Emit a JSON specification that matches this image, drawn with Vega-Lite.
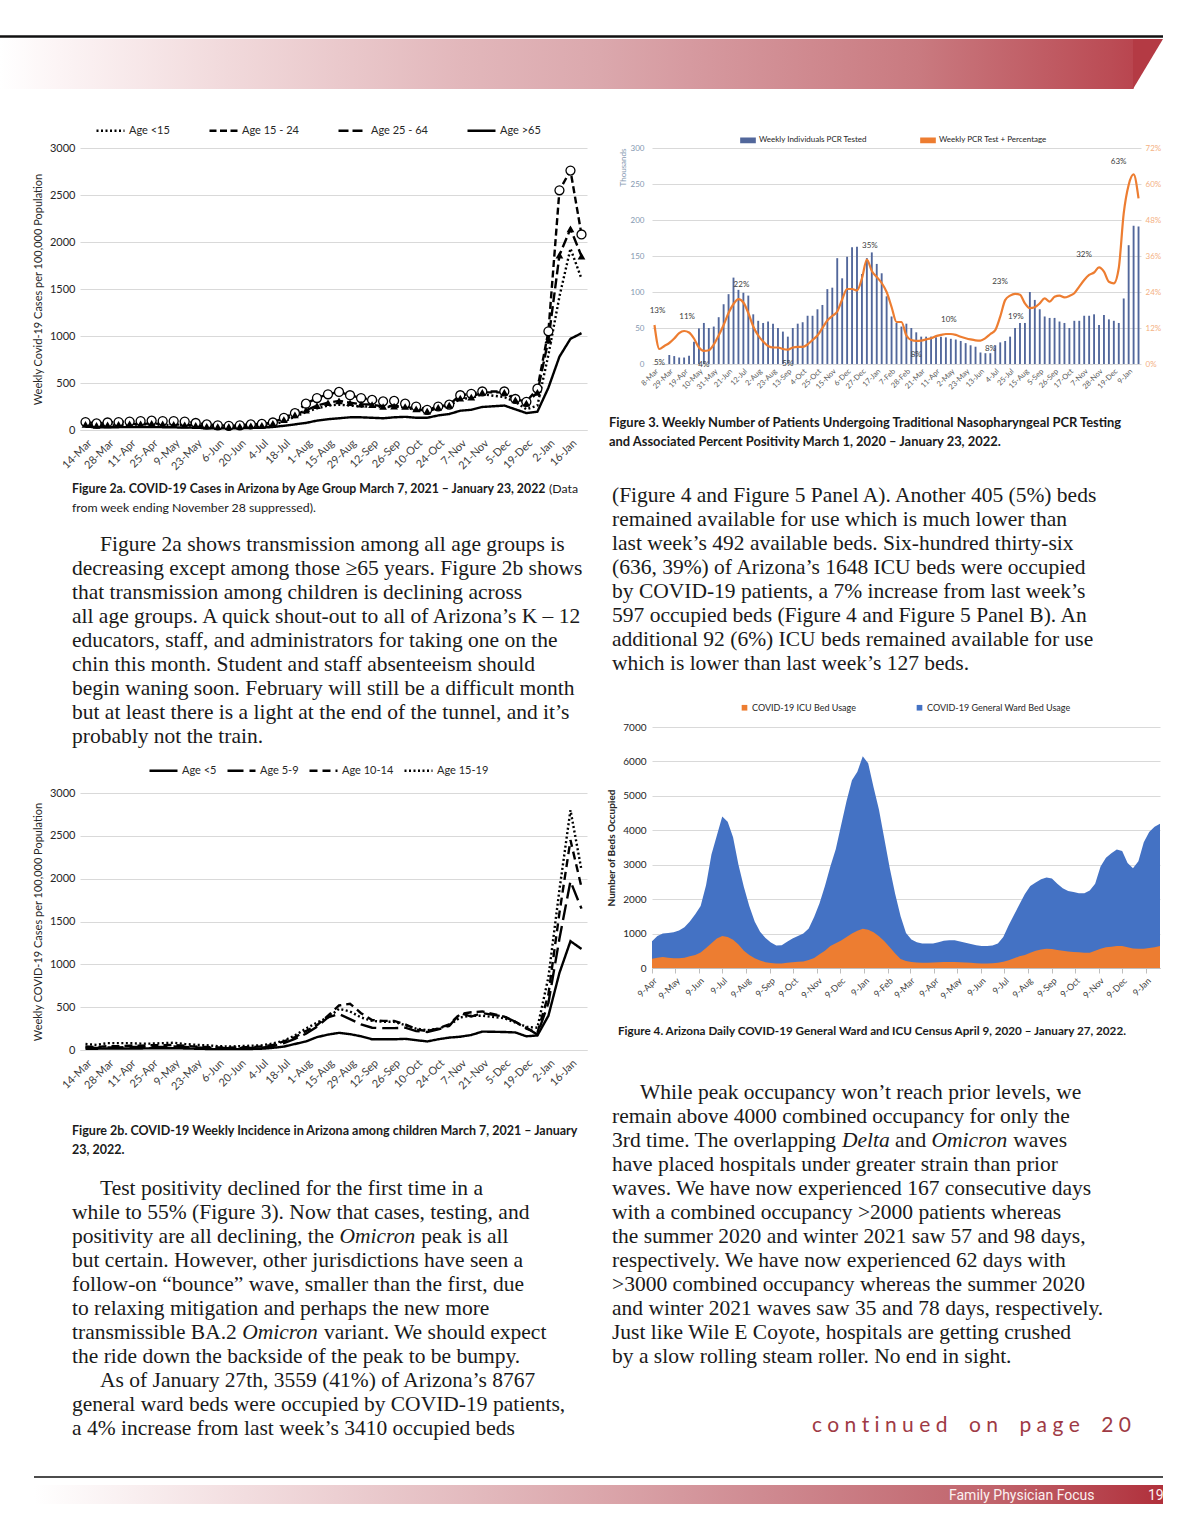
{
"$schema": "https://vega.github.io/schema/vega-lite/v6.json",
"padding": 0,
"background": "#ffffff",
"config": {
  "view": {"stroke": null},
  "font": "Lato",
  "axis": {"labelFont": "Lato", "titleFont": "Lato", "gridColor": "#d9d9d9", "gridWidth": 1, "domain": false, "ticks": false, "labelColor": "#404040", "titleColor": "#404040", "titleFontWeight": "normal", "labelOverlap": false, "labelBound": false},
  "legend": {"labelFont": "Lato", "labelColor": "#262626"}
},
"datasets": {
  "c2a": [
    {"w":"14-Mar","Age <15":50,"Age 15 - 24":85,"Age 25 - 64":60,"Age >65":35},
    {"w":"21-Mar","Age <15":45,"Age 15 - 24":70,"Age 25 - 64":50,"Age >65":30},
    {"w":"28-Mar","Age <15":45,"Age 15 - 24":80,"Age 25 - 64":55,"Age >65":30},
    {"w":"4-Apr","Age <15":50,"Age 15 - 24":85,"Age 25 - 64":60,"Age >65":30},
    {"w":"11-Apr","Age <15":55,"Age 15 - 24":90,"Age 25 - 64":65,"Age >65":32},
    {"w":"18-Apr","Age <15":60,"Age 15 - 24":95,"Age 25 - 64":65,"Age >65":32},
    {"w":"25-Apr","Age <15":60,"Age 15 - 24":100,"Age 25 - 64":70,"Age >65":32},
    {"w":"2-May","Age <15":55,"Age 15 - 24":95,"Age 25 - 64":65,"Age >65":30},
    {"w":"9-May","Age <15":55,"Age 15 - 24":95,"Age 25 - 64":60,"Age >65":28},
    {"w":"16-May","Age <15":50,"Age 15 - 24":90,"Age 25 - 64":55,"Age >65":26},
    {"w":"23-May","Age <15":45,"Age 15 - 24":75,"Age 25 - 64":50,"Age >65":24},
    {"w":"30-May","Age <15":35,"Age 15 - 24":60,"Age 25 - 64":40,"Age >65":20},
    {"w":"6-Jun","Age <15":25,"Age 15 - 24":50,"Age 25 - 64":35,"Age >65":18},
    {"w":"13-Jun","Age <15":25,"Age 15 - 24":45,"Age 25 - 64":35,"Age >65":18},
    {"w":"20-Jun","Age <15":30,"Age 15 - 24":50,"Age 25 - 64":40,"Age >65":20},
    {"w":"27-Jun","Age <15":30,"Age 15 - 24":60,"Age 25 - 64":45,"Age >65":22},
    {"w":"4-Jul","Age <15":35,"Age 15 - 24":65,"Age 25 - 64":50,"Age >65":25},
    {"w":"11-Jul","Age <15":55,"Age 15 - 24":80,"Age 25 - 64":70,"Age >65":32},
    {"w":"18-Jul","Age <15":90,"Age 15 - 24":130,"Age 25 - 64":110,"Age >65":45},
    {"w":"25-Jul","Age <15":140,"Age 15 - 24":180,"Age 25 - 64":160,"Age >65":60},
    {"w":"1-Aug","Age <15":190,"Age 15 - 24":280,"Age 25 - 64":210,"Age >65":75},
    {"w":"8-Aug","Age <15":230,"Age 15 - 24":340,"Age 25 - 64":260,"Age >65":100},
    {"w":"15-Aug","Age <15":260,"Age 15 - 24":380,"Age 25 - 64":290,"Age >65":115},
    {"w":"22-Aug","Age <15":270,"Age 15 - 24":405,"Age 25 - 64":310,"Age >65":125},
    {"w":"29-Aug","Age <15":260,"Age 15 - 24":370,"Age 25 - 64":290,"Age >65":135},
    {"w":"5-Sep","Age <15":250,"Age 15 - 24":340,"Age 25 - 64":275,"Age >65":135},
    {"w":"12-Sep","Age <15":250,"Age 15 - 24":320,"Age 25 - 64":270,"Age >65":130},
    {"w":"19-Sep","Age <15":240,"Age 15 - 24":305,"Age 25 - 64":250,"Age >65":125},
    {"w":"26-Sep","Age <15":250,"Age 15 - 24":310,"Age 25 - 64":255,"Age >65":135},
    {"w":"3-Oct","Age <15":240,"Age 15 - 24":280,"Age 25 - 64":250,"Age >65":140},
    {"w":"10-Oct","Age <15":210,"Age 15 - 24":250,"Age 25 - 64":225,"Age >65":130},
    {"w":"17-Oct","Age <15":190,"Age 15 - 24":215,"Age 25 - 64":200,"Age >65":130},
    {"w":"24-Oct","Age <15":240,"Age 15 - 24":250,"Age 25 - 64":240,"Age >65":155},
    {"w":"31-Oct","Age <15":260,"Age 15 - 24":270,"Age 25 - 64":265,"Age >65":170},
    {"w":"7-Nov","Age <15":330,"Age 15 - 24":370,"Age 25 - 64":340,"Age >65":205},
    {"w":"14-Nov","Age <15":340,"Age 15 - 24":385,"Age 25 - 64":350,"Age >65":215},
    {"w":"21-Nov","Age <15":380,"Age 15 - 24":410,"Age 25 - 64":400,"Age >65":245},
    {"w":"5-Dec","Age <15":350,"Age 15 - 24":410,"Age 25 - 64":400,"Age >65":260},
    {"w":"12-Dec","Age <15":300,"Age 15 - 24":330,"Age 25 - 64":320,"Age >65":220},
    {"w":"19-Dec","Age <15":220,"Age 15 - 24":300,"Age 25 - 64":285,"Age >65":180},
    {"w":"26-Dec","Age <15":260,"Age 15 - 24":440,"Age 25 - 64":400,"Age >65":195},
    {"w":"2-Jan","Age <15":800,"Age 15 - 24":1050,"Age 25 - 64":960,"Age >65":450},
    {"w":"9-Jan","Age <15":1420,"Age 15 - 24":2550,"Age 25 - 64":1860,"Age >65":780},
    {"w":"16-Jan","Age <15":1930,"Age 15 - 24":2760,"Age 25 - 64":2140,"Age >65":970},
    {"w":"23-Jan","Age <15":1610,"Age 15 - 24":2080,"Age 25 - 64":1850,"Age >65":1030}
  ],
  "c2b": [
    {"w":"14-Mar","Age <5":15,"Age 5-9":30,"Age 10-14":40,"Age 15-19":70},
    {"w":"21-Mar","Age <5":15,"Age 5-9":25,"Age 10-14":35,"Age 15-19":60},
    {"w":"28-Mar","Age <5":18,"Age 5-9":30,"Age 10-14":45,"Age 15-19":80},
    {"w":"4-Apr","Age <5":18,"Age 5-9":30,"Age 10-14":45,"Age 15-19":80},
    {"w":"11-Apr","Age <5":18,"Age 5-9":35,"Age 10-14":50,"Age 15-19":80},
    {"w":"18-Apr","Age <5":18,"Age 5-9":35,"Age 10-14":50,"Age 15-19":75},
    {"w":"25-Apr","Age <5":20,"Age 5-9":35,"Age 10-14":55,"Age 15-19":75},
    {"w":"2-May","Age <5":20,"Age 5-9":35,"Age 10-14":55,"Age 15-19":80},
    {"w":"9-May","Age <5":20,"Age 5-9":40,"Age 10-14":60,"Age 15-19":85},
    {"w":"16-May","Age <5":18,"Age 5-9":35,"Age 10-14":50,"Age 15-19":70},
    {"w":"23-May","Age <5":15,"Age 5-9":30,"Age 10-14":40,"Age 15-19":60},
    {"w":"30-May","Age <5":12,"Age 5-9":25,"Age 10-14":35,"Age 15-19":55},
    {"w":"6-Jun","Age <5":10,"Age 5-9":20,"Age 10-14":30,"Age 15-19":45},
    {"w":"13-Jun","Age <5":10,"Age 5-9":20,"Age 10-14":28,"Age 15-19":40},
    {"w":"20-Jun","Age <5":10,"Age 5-9":22,"Age 10-14":30,"Age 15-19":45},
    {"w":"27-Jun","Age <5":12,"Age 5-9":25,"Age 10-14":35,"Age 15-19":50},
    {"w":"4-Jul","Age <5":15,"Age 5-9":28,"Age 10-14":40,"Age 15-19":55},
    {"w":"11-Jul","Age <5":25,"Age 5-9":45,"Age 10-14":60,"Age 15-19":75},
    {"w":"18-Jul","Age <5":40,"Age 5-9":80,"Age 10-14":100,"Age 15-19":110},
    {"w":"25-Jul","Age <5":70,"Age 5-9":130,"Age 10-14":150,"Age 15-19":170},
    {"w":"1-Aug","Age <5":100,"Age 5-9":190,"Age 10-14":220,"Age 15-19":250},
    {"w":"8-Aug","Age <5":150,"Age 5-9":270,"Age 10-14":290,"Age 15-19":320},
    {"w":"15-Aug","Age <5":180,"Age 5-9":380,"Age 10-14":400,"Age 15-19":380},
    {"w":"22-Aug","Age <5":200,"Age 5-9":420,"Age 10-14":520,"Age 15-19":480},
    {"w":"29-Aug","Age <5":185,"Age 5-9":360,"Age 10-14":540,"Age 15-19":450},
    {"w":"5-Sep","Age <5":160,"Age 5-9":300,"Age 10-14":430,"Age 15-19":380},
    {"w":"12-Sep","Age <5":125,"Age 5-9":260,"Age 10-14":350,"Age 15-19":340},
    {"w":"19-Sep","Age <5":125,"Age 5-9":255,"Age 10-14":340,"Age 15-19":330},
    {"w":"26-Sep","Age <5":125,"Age 5-9":255,"Age 10-14":340,"Age 15-19":330},
    {"w":"3-Oct","Age <5":130,"Age 5-9":260,"Age 10-14":300,"Age 15-19":290},
    {"w":"10-Oct","Age <5":115,"Age 5-9":220,"Age 10-14":240,"Age 15-19":250},
    {"w":"17-Oct","Age <5":100,"Age 5-9":210,"Age 10-14":220,"Age 15-19":230},
    {"w":"24-Oct","Age <5":125,"Age 5-9":240,"Age 10-14":250,"Age 15-19":250},
    {"w":"31-Oct","Age <5":145,"Age 5-9":280,"Age 10-14":300,"Age 15-19":290},
    {"w":"7-Nov","Age <5":155,"Age 5-9":430,"Age 10-14":420,"Age 15-19":380},
    {"w":"14-Nov","Age <5":175,"Age 5-9":390,"Age 10-14":440,"Age 15-19":400},
    {"w":"21-Nov","Age <5":215,"Age 5-9":430,"Age 10-14":450,"Age 15-19":400},
    {"w":"5-Dec","Age <5":210,"Age 5-9":390,"Age 10-14":390,"Age 15-19":370},
    {"w":"12-Dec","Age <5":205,"Age 5-9":330,"Age 10-14":330,"Age 15-19":320},
    {"w":"19-Dec","Age <5":160,"Age 5-9":260,"Age 10-14":250,"Age 15-19":270},
    {"w":"26-Dec","Age <5":170,"Age 5-9":180,"Age 10-14":200,"Age 15-19":260},
    {"w":"2-Jan","Age <5":400,"Age 5-9":550,"Age 10-14":650,"Age 15-19":850},
    {"w":"9-Jan","Age <5":900,"Age 5-9":1300,"Age 10-14":1600,"Age 15-19":1870},
    {"w":"16-Jan","Age <5":1270,"Age 5-9":1970,"Age 10-14":2450,"Age 15-19":2800},
    {"w":"23-Jan","Age <5":1180,"Age 5-9":1650,"Age 10-14":1900,"Age 15-19":2100}
  ],
  "c3": [
    {"w":"8-Mar","p":0.13,"pos":"above"},{"w":"15-Mar","p":0.05,"pos":"below"},{"w":"22-Mar","p":0.06},
    {"w":"29-Mar","t":12.5,"p":0.07},{"w":"5-Apr","t":11,"p":0.085},{"w":"12-Apr","t":9,"p":0.103},
    {"w":"19-Apr","t":9,"p":0.11,"pos":"above"},{"w":"26-Apr","t":11.5,"p":0.105},{"w":"3-May","t":31,"p":0.085},
    {"w":"10-May","t":49.5,"p":0.055},{"w":"17-May","t":57,"p":0.044,"pos":"below"},{"w":"24-May","t":50,"p":0.046},
    {"w":"31-May","t":52,"p":0.065},{"w":"7-Jun","t":65,"p":0.095},{"w":"14-Jun","t":83,"p":0.13},
    {"w":"21-Jun","t":97,"p":0.17},{"w":"28-Jun","t":120,"p":0.2},{"w":"5-Jul","t":103,"p":0.216,"pos":"above"},
    {"w":"12-Jul","t":99,"p":0.205},{"w":"19-Jul","t":95,"p":0.17},{"w":"26-Jul","t":69,"p":0.125},
    {"w":"2-Aug","t":60,"p":0.095},{"w":"9-Aug","t":57,"p":0.075},{"w":"16-Aug","t":59,"p":0.06},
    {"w":"23-Aug","t":56,"p":0.055},{"w":"30-Aug","t":50,"p":0.055},{"w":"6-Sep","t":45,"p":0.05},
    {"w":"13-Sep","t":38,"p":0.048,"pos":"below"},{"w":"20-Sep","t":50,"p":0.055},{"w":"27-Sep","t":56,"p":0.057},
    {"w":"4-Oct","t":58,"p":0.057},{"w":"11-Oct","t":67,"p":0.065},{"w":"18-Oct","t":67,"p":0.08},
    {"w":"25-Oct","t":76,"p":0.095},{"w":"1-Nov","t":82,"p":0.12},{"w":"8-Nov","t":104,"p":0.145},
    {"w":"15-Nov","t":106,"p":0.16},{"w":"22-Nov","t":147,"p":0.175},{"w":"29-Nov","t":119,"p":0.215},
    {"w":"6-Dec","t":149,"p":0.25},{"w":"13-Dec","t":162,"p":0.25},{"w":"20-Dec","t":163,"p":0.245},
    {"w":"27-Dec","t":125,"p":0.285},{"w":"3-Jan","t":147,"p":0.348,"pos":"above"},{"w":"10-Jan","t":155,"p":0.31},
    {"w":"17-Jan","t":139,"p":0.29},{"w":"24-Jan","t":126,"p":0.27},{"w":"31-Jan","t":94,"p":0.24},
    {"w":"7-Feb","t":66,"p":0.19},{"w":"14-Feb","t":57,"p":0.14},{"w":"21-Feb","t":52,"p":0.14},
    {"w":"28-Feb","t":56,"p":0.095},{"w":"7-Mar","t":50,"p":0.08},{"w":"14-Mar","t":44,"p":0.077,"pos":"below"},
    {"w":"21-Mar","t":38,"p":0.078},{"w":"28-Mar","t":38,"p":0.082},{"w":"4-Apr","t":38,"p":0.086},
    {"w":"11-Apr","t":37,"p":0.093},{"w":"18-Apr","t":38,"p":0.097},{"w":"25-Apr","t":37,"p":0.1,"pos":"above"},
    {"w":"2-May","t":35,"p":0.1},{"w":"9-May","t":34,"p":0.097},{"w":"16-May","t":32,"p":0.091},
    {"w":"23-May","t":29,"p":0.086},{"w":"30-May","t":26,"p":0.082},{"w":"6-Jun","t":24,"p":0.079},
    {"w":"13-Jun","t":16,"p":0.078,"pos":"right"},{"w":"20-Jun","t":15,"p":0.086},{"w":"27-Jun","t":15,"p":0.1},
    {"w":"4-Jul","t":26,"p":0.113},{"w":"11-Jul","t":30,"p":0.158},{"w":"18-Jul","t":32,"p":0.213},
    {"w":"25-Jul","t":38,"p":0.228},{"w":"1-Aug","t":50,"p":0.234,"pos":"aboveleft"},{"w":"8-Aug","t":57,"p":0.231},
    {"w":"15-Aug","t":57,"p":0.202},{"w":"22-Aug","t":100,"p":0.186,"pos":"left"},{"w":"29-Aug","t":89,"p":0.189},
    {"w":"5-Sep","t":76,"p":0.202},{"w":"12-Sep","t":66,"p":0.219},{"w":"19-Sep","t":64,"p":0.208},
    {"w":"26-Sep","t":64,"p":0.224},{"w":"3-Oct","t":59,"p":0.228},{"w":"10-Oct","t":57,"p":0.222},
    {"w":"17-Oct","t":50,"p":0.227},{"w":"24-Oct","t":60,"p":0.236},{"w":"31-Oct","t":60,"p":0.258},
    {"w":"7-Nov","t":67,"p":0.28},{"w":"14-Nov","t":67,"p":0.297},{"w":"21-Nov","t":69,"p":0.305},
    {"w":"28-Nov","t":54,"p":0.322,"pos":"aboveleft"},{"w":"5-Dec","t":68,"p":0.308},{"w":"12-Dec","t":62,"p":0.274},
    {"w":"19-Dec","t":60,"p":0.269},{"w":"26-Dec","t":57,"p":0.32},{"w":"2-Jan","t":91,"p":0.502},
    {"w":"9-Jan","t":165,"p":0.597},{"w":"16-Jan","t":192,"p":0.632,"pos":"aboveleft"},{"w":"23-Jan","t":191,"p":0.552}
  ],
  "c4": [
    {"d":"2020/04/09","tot":780,"icu":270},{"d":"2020/04/16","tot":930,"icu":300},{"d":"2020/04/23","tot":1000,"icu":320},
    {"d":"2020/04/30","tot":1020,"icu":300},{"d":"2020/05/07","tot":1040,"icu":280},{"d":"2020/05/14","tot":1090,"icu":280},
    {"d":"2020/05/21","tot":1180,"icu":300},{"d":"2020/05/28","tot":1350,"icu":340},{"d":"2020/06/04","tot":1560,"icu":380},
    {"d":"2020/06/11","tot":1800,"icu":450},{"d":"2020/06/18","tot":2400,"icu":580},{"d":"2020/06/25","tot":3300,"icu":720},
    {"d":"2020/07/02","tot":3850,"icu":860},{"d":"2020/07/09","tot":4400,"icu":930},{"d":"2020/07/16","tot":4250,"icu":900},
    {"d":"2020/07/23","tot":3800,"icu":820},{"d":"2020/07/30","tot":3000,"icu":680},{"d":"2020/08/06","tot":2350,"icu":500},
    {"d":"2020/08/13","tot":1800,"icu":380},{"d":"2020/08/20","tot":1350,"icu":280},{"d":"2020/08/27","tot":1050,"icu":220},
    {"d":"2020/09/03","tot":870,"icu":170},{"d":"2020/09/10","tot":740,"icu":145},{"d":"2020/09/17","tot":650,"icu":130},
    {"d":"2020/09/24","tot":660,"icu":130},{"d":"2020/10/01","tot":760,"icu":150},{"d":"2020/10/08","tot":860,"icu":170},
    {"d":"2020/10/15","tot":930,"icu":180},{"d":"2020/10/22","tot":1000,"icu":190},{"d":"2020/10/29","tot":1150,"icu":230},
    {"d":"2020/11/05","tot":1480,"icu":290},{"d":"2020/11/12","tot":1880,"icu":400},{"d":"2020/11/19","tot":2380,"icu":500},
    {"d":"2020/11/26","tot":2950,"icu":640},{"d":"2020/12/03","tot":3450,"icu":720},{"d":"2020/12/10","tot":4150,"icu":800},
    {"d":"2020/12/17","tot":4850,"icu":900},{"d":"2020/12/24","tot":5450,"icu":1000},{"d":"2020/12/31","tot":5700,"icu":1080},
    {"d":"2021/01/07","tot":6150,"icu":1140},{"d":"2021/01/14","tot":5950,"icu":1110},{"d":"2021/01/21","tot":5250,"icu":1040},
    {"d":"2021/01/28","tot":4600,"icu":920},{"d":"2021/02/04","tot":3750,"icu":780},{"d":"2021/02/11","tot":2900,"icu":600},
    {"d":"2021/02/18","tot":2150,"icu":420},{"d":"2021/02/25","tot":1500,"icu":260},{"d":"2021/03/04","tot":1020,"icu":200},
    {"d":"2021/03/11","tot":830,"icu":175},{"d":"2021/03/18","tot":750,"icu":160},{"d":"2021/03/25","tot":710,"icu":150},
    {"d":"2021/04/01","tot":710,"icu":150},{"d":"2021/04/08","tot":710,"icu":160},{"d":"2021/04/15","tot":750,"icu":170},
    {"d":"2021/04/22","tot":790,"icu":175},{"d":"2021/04/29","tot":805,"icu":175},{"d":"2021/05/06","tot":805,"icu":175},
    {"d":"2021/05/13","tot":770,"icu":170},{"d":"2021/05/20","tot":730,"icu":160},{"d":"2021/05/27","tot":700,"icu":150},
    {"d":"2021/06/03","tot":660,"icu":140},{"d":"2021/06/10","tot":640,"icu":130},{"d":"2021/06/17","tot":640,"icu":130},
    {"d":"2021/06/24","tot":650,"icu":140},{"d":"2021/07/01","tot":710,"icu":150},{"d":"2021/07/08","tot":900,"icu":180},
    {"d":"2021/07/15","tot":1240,"icu":225},{"d":"2021/07/22","tot":1550,"icu":280},{"d":"2021/07/29","tot":1850,"icu":340},
    {"d":"2021/08/05","tot":2150,"icu":380},{"d":"2021/08/12","tot":2380,"icu":440},{"d":"2021/08/19","tot":2480,"icu":500},
    {"d":"2021/08/26","tot":2580,"icu":540},{"d":"2021/09/02","tot":2630,"icu":560},{"d":"2021/09/09","tot":2600,"icu":550},
    {"d":"2021/09/16","tot":2450,"icu":520},{"d":"2021/09/23","tot":2320,"icu":500},{"d":"2021/09/30","tot":2240,"icu":480},
    {"d":"2021/10/07","tot":2210,"icu":465},{"d":"2021/10/14","tot":2170,"icu":455},{"d":"2021/10/21","tot":2170,"icu":445},
    {"d":"2021/10/28","tot":2250,"icu":445},{"d":"2021/11/04","tot":2450,"icu":500},{"d":"2021/11/11","tot":2950,"icu":560},
    {"d":"2021/11/18","tot":3200,"icu":600},{"d":"2021/11/25","tot":3330,"icu":620},{"d":"2021/12/02","tot":3440,"icu":640},
    {"d":"2021/12/09","tot":3400,"icu":640},{"d":"2021/12/16","tot":3050,"icu":600},{"d":"2021/12/23","tot":2900,"icu":570},
    {"d":"2021/12/30","tot":3100,"icu":560},{"d":"2022/01/06","tot":3650,"icu":560},{"d":"2022/01/13","tot":3950,"icu":580},
    {"d":"2022/01/20","tot":4100,"icu":600},{"d":"2022/01/27","tot":4190,"icu":640}
  ],
  "pL1": [
    {"line":1,"ind":1,"text":"Figure 2a shows transmission among all age groups is"},
    {"line":2,"ind":0,"text":"decreasing except among those ≥65 years. Figure 2b shows"},
    {"line":3,"ind":0,"text":"that transmission among children is declining across"},
    {"line":4,"ind":0,"text":"all age groups. A quick shout-out to all of Arizona’s K – 12"},
    {"line":5,"ind":0,"text":"educators, staff, and administrators for taking one on the"},
    {"line":6,"ind":0,"text":"chin this month. Student and staff absenteeism should"},
    {"line":7,"ind":0,"text":"begin waning soon. February will still be a difficult month"},
    {"line":8,"ind":0,"text":"but at least there is a light at the end of the tunnel, and it’s"},
    {"line":9,"ind":0,"text":"probably not the train."}
  ],
  "pL2": [
    {"line":1,"ind":1,"text":"Test positivity declined for the first time in a"},
    {"line":2,"ind":0,"text":"while to 55% (Figure 3). Now that cases, testing, and"},
    {"line":3,"ind":0,"text":"positivity are all declining, the"},
    {"line":4,"ind":0,"text":"but certain. However, other jurisdictions have seen a"},
    {"line":5,"ind":0,"text":"follow-on “bounce” wave, smaller than the first, due"},
    {"line":6,"ind":0,"text":"to relaxing mitigation and perhaps the new more"},
    {"line":7,"ind":0,"text":"transmissible BA.2"},
    {"line":8,"ind":0,"text":"the ride down the backside of the peak to be bumpy."},
    {"line":9,"ind":1,"text":"As of January 27th, 3559 (41%) of Arizona’s 8767"},
    {"line":10,"ind":0,"text":"general ward beds were occupied by COVID-19 patients,"},
    {"line":11,"ind":0,"text":"a 4% increase from last week’s 3410 occupied beds"}
  ],
  "pR1": [
    {"line":1,"ind":0,"text":"(Figure 4 and Figure 5 Panel A). Another 405 (5%) beds"},
    {"line":2,"ind":0,"text":"remained available for use which is much lower than"},
    {"line":3,"ind":0,"text":"last week’s 492 available beds. Six-hundred thirty-six"},
    {"line":4,"ind":0,"text":"(636, 39%) of Arizona’s 1648 ICU beds were occupied"},
    {"line":5,"ind":0,"text":"by COVID-19 patients, a 7% increase from last week’s"},
    {"line":6,"ind":0,"text":"597 occupied beds (Figure 4 and Figure 5 Panel B). An"},
    {"line":7,"ind":0,"text":"additional 92 (6%) ICU beds remained available for use"},
    {"line":8,"ind":0,"text":"which is lower than last week’s 127 beds."}
  ],
  "pR2": [
    {"line":1,"ind":1,"text":"While peak occupancy won’t reach prior levels, we"},
    {"line":2,"ind":0,"text":"remain above 4000 combined occupancy for only the"},
    {"line":3,"ind":0,"text":"3rd time. The overlapping"},
    {"line":4,"ind":0,"text":"have placed hospitals under greater strain than prior"},
    {"line":5,"ind":0,"text":"waves. We have now experienced 167 consecutive days"},
    {"line":6,"ind":0,"text":"with a combined occupancy >2000 patients whereas"},
    {"line":7,"ind":0,"text":"the summer 2020 and winter 2021 saw 57 and 98 days,"},
    {"line":8,"ind":0,"text":"respectively. We have now experienced 62 days with"},
    {"line":9,"ind":0,"text":">3000 combined occupancy whereas the summer 2020"},
    {"line":10,"ind":0,"text":"and winter 2021 waves saw 35 and 78 days, respectively."},
    {"line":11,"ind":0,"text":"Just like Wile E Coyote, hospitals are getting crushed"},
    {"line":12,"ind":0,"text":"by a slow rolling steam roller. No end in sight."}
  ]
},
"spacing": 0,
"resolve": {"scale": {"color": "independent", "strokeDash": "independent"}, "legend": {"color": "independent", "strokeDash": "independent"}},
"hconcat": [
 {
  "spacing": 0,
  "bounds": "flush",
  "resolve": {"scale": {"color": "independent", "strokeDash": "independent"}, "legend": {"color": "independent", "strokeDash": "independent"}},
  "vconcat": [
   {
    "width": 507, "height": 148,
    "data": {"values": [{}]},
    "encoding": {
      "x": {"datum": 0, "type": "quantitative", "scale": {"domain": [80, 587], "nice": false, "zero": false}, "axis": null},
      "y": {"datum": 39, "type": "quantitative", "scale": {"domain": [0, 148], "reverse": true, "nice": false, "zero": false}, "axis": null}
    },
    "layer": [
      {"mark": {"type": "rect", "fill": {"gradient": "linear", "stops": [{"offset": 0, "color": "#ffffff"}, {"offset": 0.1, "color": "#fcf4f5"}, {"offset": 0.38, "color": "#f1d9db"}, {"offset": 0.77, "color": "#e2b7bb"}, {"offset": 1, "color": "#dba8ad"}]}},
       "encoding": {"x2": {"datum": 600}, "y2": {"datum": 89}}},
      {"mark": {"type": "rect", "fill": "#111111"},
       "encoding": {"y": {"datum": 35.3, "type": "quantitative"}, "x2": {"datum": 600}, "y2": {"datum": 37.8}}}
    ]
   },
   {
    "width": 507, "height": 282,
    "data": {"name": "c2a"},
    "transform": [{"fold": ["Age <15", "Age 15 - 24", "Age 25 - 64", "Age >65"], "as": ["s", "v"]}],
    "encoding": {
      "x": {"field": "w", "type": "ordinal", "sort": null,
        "scale": {"type": "point", "padding": 0.5, "domain": ["14-Mar","21-Mar","28-Mar","4-Apr","11-Apr","18-Apr","25-Apr","2-May","9-May","16-May","23-May","30-May","6-Jun","13-Jun","20-Jun","27-Jun","4-Jul","11-Jul","18-Jul","25-Jul","1-Aug","8-Aug","15-Aug","22-Aug","29-Aug","5-Sep","12-Sep","19-Sep","26-Sep","3-Oct","10-Oct","17-Oct","24-Oct","31-Oct","7-Nov","14-Nov","21-Nov","28-Nov","5-Dec","12-Dec","19-Dec","26-Dec","2-Jan","9-Jan","16-Jan","23-Jan"]},
        "axis": {"title": null, "values": ["14-Mar","28-Mar","11-Apr","25-Apr","9-May","23-May","6-Jun","20-Jun","4-Jul","18-Jul","1-Aug","15-Aug","29-Aug","12-Sep","26-Sep","10-Oct","24-Oct","7-Nov","21-Nov","5-Dec","19-Dec","2-Jan","16-Jan"], "labelAngle": -45, "labelFontSize": 11, "labelPadding": 7, "domain": true, "domainColor": "#d9d9d9", "labelColor": "#404040"}},
      "y": {"field": "v", "type": "quantitative",
        "scale": {"domain": [0, 3000], "nice": false},
        "axis": {"title": "Weekly Covid-19 Cases per 100,000 Population", "format": "d", "values": [0, 500, 1000, 1500, 2000, 2500, 3000], "labelFontSize": 11, "labelPadding": 5, "titleFontSize": 11, "titlePadding": 6, "grid": true, "labelColor": "#262626", "titleColor": "#262626"}}
    },
    "layer": [
      {"mark": {"type": "line", "color": "#000000", "strokeWidth": 2.4},
       "encoding": {"strokeDash": {"field": "s", "type": "nominal",
         "scale": {"domain": ["Age <15", "Age 15 - 24", "Age 25 - 64", "Age >65"], "range": [[2, 2.5], [7, 3.5], [10, 4], [1, 0]]},
         "legend": {"title": null, "orient": "none", "legendX": 15, "legendY": -33, "direction": "horizontal", "symbolType": "stroke", "symbolSize": 784, "symbolStrokeWidth": 2.5, "symbolStrokeColor": "#000000", "labelFontSize": 11, "labelOffset": 3, "columnPadding": 34}}}},
      {"transform": [{"filter": "datum.s === 'Age 15 - 24'"}],
       "mark": {"type": "point", "shape": "circle", "size": 80, "filled": true, "fill": "#ffffff", "stroke": "#000000", "strokeWidth": 1.3, "opacity": 1}},
      {"transform": [{"filter": "datum.s === 'Age 25 - 64'"}],
       "mark": {"type": "point", "shape": "triangle-up", "size": 60, "filled": true, "color": "#000000", "opacity": 1}}
    ]
   },
   {
    "width": 507, "height": 363,
    "resolve": {"scale": {"y": "independent"}},
    "layer": [
      {"data": {"values": [{"line": 1, "text": "Figure 2a. COVID-19 Cases in Arizona by Age Group March 7, 2021 – January 23, 2022"}]},
       "mark": {"type": "text", "align": "left", "baseline": "alphabetic", "font": "Lato", "fontWeight": "bold", "fontSize": 12.3, "color": "#1a1a1a"},
       "encoding": {"x": {"datum": 72, "type": "quantitative", "scale": {"domain": [80, 587], "nice": false, "zero": false}, "axis": null},
         "y": {"field": "line", "type": "quantitative", "scale": {"domain": [-2.3158, 16.7895], "reverse": true, "nice": false, "zero": false}, "axis": null},
         "text": {"field": "text", "type": "nominal"}}},
      {"data": {"values": [{"line": 1, "text": "(Data"}]},
       "mark": {"type": "text", "align": "left", "baseline": "alphabetic", "font": "Lato", "fontSize": 12.3, "color": "#1a1a1a"},
       "encoding": {"x": {"datum": 549, "type": "quantitative", "scale": {"domain": [80, 587], "nice": false, "zero": false}, "axis": null},
         "y": {"field": "line", "type": "quantitative", "scale": {"domain": [-2.3158, 16.7895], "reverse": true, "nice": false, "zero": false}, "axis": null},
         "text": {"field": "text", "type": "nominal"}}},
      {"data": {"values": [{"line": 2, "text": "from week ending November 28 suppressed)."}]},
       "mark": {"type": "text", "align": "left", "baseline": "alphabetic", "font": "Lato", "fontSize": 12.3, "color": "#1a1a1a"},
       "encoding": {"x": {"datum": 72, "type": "quantitative", "scale": {"domain": [80, 587], "nice": false, "zero": false}, "axis": null},
         "y": {"field": "line", "type": "quantitative", "scale": {"domain": [-2.3158, 16.7895], "reverse": true, "nice": false, "zero": false}, "axis": null},
         "text": {"field": "text", "type": "nominal"}}},
      {"data": {"name": "pL1"}, "transform": [{"filter": "datum.ind === 0"}],
       "mark": {"type": "text", "align": "left", "baseline": "alphabetic", "font": "Liberation Serif", "fontSize": 21.5, "color": "#1a1a1a"},
       "encoding": {"x": {"datum": 72, "type": "quantitative", "scale": {"domain": [80, 587], "nice": false, "zero": false}, "axis": null},
         "y": {"field": "line", "type": "quantitative", "scale": {"domain": [-4.0417, 11.0833], "reverse": true, "nice": false, "zero": false}, "axis": null},
         "text": {"field": "text", "type": "nominal"}}},
      {"data": {"name": "pL1"}, "transform": [{"filter": "datum.ind === 1"}],
       "mark": {"type": "text", "align": "left", "baseline": "alphabetic", "font": "Liberation Serif", "fontSize": 21.5, "color": "#1a1a1a"},
       "encoding": {"x": {"datum": 100, "type": "quantitative", "scale": {"domain": [80, 587], "nice": false, "zero": false}, "axis": null},
         "y": {"field": "line", "type": "quantitative", "scale": {"domain": [-4.0417, 11.0833], "reverse": true, "nice": false, "zero": false}, "axis": null},
         "text": {"field": "text", "type": "nominal"}}}
    ]
   },
   {
    "width": 507, "height": 257,
    "data": {"name": "c2b"},
    "transform": [{"fold": ["Age <5", "Age 5-9", "Age 10-14", "Age 15-19"], "as": ["s", "v"]}],
    "encoding": {
      "x": {"field": "w", "type": "ordinal", "sort": null,
        "scale": {"type": "point", "padding": 0.5, "domain": ["14-Mar","21-Mar","28-Mar","4-Apr","11-Apr","18-Apr","25-Apr","2-May","9-May","16-May","23-May","30-May","6-Jun","13-Jun","20-Jun","27-Jun","4-Jul","11-Jul","18-Jul","25-Jul","1-Aug","8-Aug","15-Aug","22-Aug","29-Aug","5-Sep","12-Sep","19-Sep","26-Sep","3-Oct","10-Oct","17-Oct","24-Oct","31-Oct","7-Nov","14-Nov","21-Nov","28-Nov","5-Dec","12-Dec","19-Dec","26-Dec","2-Jan","9-Jan","16-Jan","23-Jan"]},
        "axis": {"title": null, "values": ["14-Mar","28-Mar","11-Apr","25-Apr","9-May","23-May","6-Jun","20-Jun","4-Jul","18-Jul","1-Aug","15-Aug","29-Aug","12-Sep","26-Sep","10-Oct","24-Oct","7-Nov","21-Nov","5-Dec","19-Dec","2-Jan","16-Jan"], "labelAngle": -45, "labelFontSize": 11, "labelPadding": 7, "domain": true, "domainColor": "#d9d9d9", "labelColor": "#404040"}},
      "y": {"field": "v", "type": "quantitative",
        "scale": {"domain": [0, 3000], "nice": false},
        "axis": {"title": "Weekly COVID-19 Cases per 100,000 Population", "format": "d", "values": [0, 500, 1000, 1500, 2000, 2500, 3000], "labelFontSize": 11, "labelPadding": 5, "titleFontSize": 11, "titlePadding": 6, "grid": true, "labelColor": "#262626", "titleColor": "#262626"}}
    },
    "layer": [
      {"mark": {"type": "line", "color": "#000000", "strokeWidth": 2.4},
       "encoding": {"strokeDash": {"field": "s", "type": "nominal",
         "scale": {"domain": ["Age <5", "Age 5-9", "Age 10-14", "Age 15-19"], "range": [[1, 0], [16, 6], [8, 5], [2, 2.5]]},
         "legend": {"title": null, "orient": "none", "legendX": 68, "legendY": -38, "direction": "horizontal", "symbolType": "stroke", "symbolSize": 784, "symbolStrokeWidth": 2.5, "symbolStrokeColor": "#000000", "labelFontSize": 11, "labelOffset": 3, "columnPadding": 5}}}}
    ]
   },
   {
    "width": 507, "height": 420,
    "resolve": {"scale": {"y": "independent"}},
    "layer": [
      {"data": {"values": [{"line": 1, "text": "Figure 2b. COVID-19 Weekly Incidence in Arizona among children March 7, 2021 – January"}, {"line": 2, "text": "23, 2022."}]},
       "mark": {"type": "text", "align": "left", "baseline": "alphabetic", "font": "Lato", "fontWeight": "bold", "fontSize": 12.5, "color": "#1a1a1a"},
       "encoding": {"x": {"datum": 72, "type": "quantitative", "scale": {"domain": [80, 587], "nice": false, "zero": false}, "axis": null},
         "y": {"field": "line", "type": "quantitative", "scale": {"domain": [-3.4737, 18.6316], "reverse": true, "nice": false, "zero": false}, "axis": null},
         "text": {"field": "text", "type": "nominal"}}},
      {"data": {"name": "pL2"}, "transform": [{"filter": "datum.ind === 0"}],
       "mark": {"type": "text", "align": "left", "baseline": "alphabetic", "font": "Liberation Serif", "fontSize": 21.5, "color": "#1a1a1a"},
       "encoding": {"x": {"datum": 72, "type": "quantitative", "scale": {"domain": [80, 587], "nice": false, "zero": false}, "axis": null},
         "y": {"field": "line", "type": "quantitative", "scale": {"domain": [-5.0417, 12.4583], "reverse": true, "nice": false, "zero": false}, "axis": null},
         "text": {"field": "text", "type": "nominal"}}},
      {"data": {"name": "pL2"}, "transform": [{"filter": "datum.ind === 1"}],
       "mark": {"type": "text", "align": "left", "baseline": "alphabetic", "font": "Liberation Serif", "fontSize": 21.5, "color": "#1a1a1a"},
       "encoding": {"x": {"datum": 100, "type": "quantitative", "scale": {"domain": [80, 587], "nice": false, "zero": false}, "axis": null},
         "y": {"field": "line", "type": "quantitative", "scale": {"domain": [-5.0417, 12.4583], "reverse": true, "nice": false, "zero": false}, "axis": null},
         "text": {"field": "text", "type": "nominal"}}},
      {"data": {"values": [{"line": 3, "text": "Omicron"}]},
       "mark": {"type": "text", "align": "left", "baseline": "alphabetic", "font": "Liberation Serif", "fontStyle": "italic", "fontSize": 21.5, "color": "#1a1a1a"},
       "encoding": {"x": {"datum": 339.5, "type": "quantitative", "scale": {"domain": [80, 587], "nice": false, "zero": false}, "axis": null},
         "y": {"field": "line", "type": "quantitative", "scale": {"domain": [-5.0417, 12.4583], "reverse": true, "nice": false, "zero": false}, "axis": null},
         "text": {"field": "text", "type": "nominal"}}},
      {"data": {"values": [{"line": 3, "text": "peak is all"}]},
       "mark": {"type": "text", "align": "left", "baseline": "alphabetic", "font": "Liberation Serif", "fontSize": 21.5, "color": "#1a1a1a"},
       "encoding": {"x": {"datum": 421.3, "type": "quantitative", "scale": {"domain": [80, 587], "nice": false, "zero": false}, "axis": null},
         "y": {"field": "line", "type": "quantitative", "scale": {"domain": [-5.0417, 12.4583], "reverse": true, "nice": false, "zero": false}, "axis": null},
         "text": {"field": "text", "type": "nominal"}}},
      {"data": {"values": [{"line": 7, "text": "Omicron"}]},
       "mark": {"type": "text", "align": "left", "baseline": "alphabetic", "font": "Liberation Serif", "fontStyle": "italic", "fontSize": 21.5, "color": "#1a1a1a"},
       "encoding": {"x": {"datum": 242.2, "type": "quantitative", "scale": {"domain": [80, 587], "nice": false, "zero": false}, "axis": null},
         "y": {"field": "line", "type": "quantitative", "scale": {"domain": [-5.0417, 12.4583], "reverse": true, "nice": false, "zero": false}, "axis": null},
         "text": {"field": "text", "type": "nominal"}}},
      {"data": {"values": [{"line": 7, "text": "variant. We should expect"}]},
       "mark": {"type": "text", "align": "left", "baseline": "alphabetic", "font": "Liberation Serif", "fontSize": 21.5, "color": "#1a1a1a"},
       "encoding": {"x": {"datum": 324.0, "type": "quantitative", "scale": {"domain": [80, 587], "nice": false, "zero": false}, "axis": null},
         "y": {"field": "line", "type": "quantitative", "scale": {"domain": [-5.0417, 12.4583], "reverse": true, "nice": false, "zero": false}, "axis": null},
         "text": {"field": "text", "type": "nominal"}}}
    ]
   },
   {
    "width": 507, "height": 70,
    "data": {"values": [{}]},
    "encoding": {
      "x": {"datum": 34, "type": "quantitative", "scale": {"domain": [80, 587], "nice": false, "zero": false}, "axis": null},
      "y": {"datum": 1485, "type": "quantitative", "scale": {"domain": [1470, 1540], "reverse": true, "nice": false, "zero": false}, "axis": null}
    },
    "layer": [
      {"mark": {"type": "rect", "fill": {"gradient": "linear", "stops": [{"offset": 0, "color": "#ffffff"}, {"offset": 0.35, "color": "#f3dfe1"}, {"offset": 0.8, "color": "#e2b8bc"}, {"offset": 1, "color": "#dba6ab"}]}},
       "encoding": {"x2": {"datum": 600}, "y2": {"datum": 1504}}},
      {"mark": {"type": "rect", "fill": "#111111"},
       "encoding": {"y": {"datum": 1476.3, "type": "quantitative"}, "x2": {"datum": 600}, "y2": {"datum": 1477.8}}}
    ]
   }
  ]
 },
 {
  "spacing": 0,
  "bounds": "flush",
  "resolve": {"scale": {"color": "independent", "strokeDash": "independent"}, "legend": {"color": "independent", "strokeDash": "independent"}},
  "vconcat": [
   {
    "width": 508, "height": 148,
    "data": {"values": [{}]},
    "encoding": {
      "x": {"datum": 600, "type": "quantitative", "scale": {"domain": [652, 1160], "nice": false, "zero": false}, "axis": null},
      "y": {"datum": 39, "type": "quantitative", "scale": {"domain": [0, 148], "reverse": true, "nice": false, "zero": false}, "axis": null}
    },
    "layer": [
      {"mark": {"type": "rect", "fill": {"gradient": "linear", "stops": [{"offset": 0, "color": "#dba8ad"}, {"offset": 0.167, "color": "#d69aa0"}, {"offset": 0.596, "color": "#c97a80"}, {"offset": 0.957, "color": "#bb4c55"}, {"offset": 1, "color": "#b9454f"}]}},
       "encoding": {"x2": {"datum": 1133.5}, "y2": {"datum": 89}}},
      {"mark": {"type": "point", "shape": "M-0.6,-1L0.6,-1L-0.6,1Z", "size": 2500, "filled": true, "color": "#b43a44", "strokeWidth": 0, "opacity": 1},
       "encoding": {"x": {"datum": 1148, "type": "quantitative"}, "y": {"datum": 64, "type": "quantitative"}}},
      {"mark": {"type": "rect", "fill": "#111111"},
       "encoding": {"y": {"datum": 35.3, "type": "quantitative"}, "x2": {"datum": 1163}, "y2": {"datum": 37.8}}}
    ]
   },
   {
    "width": 489, "height": 216,
    "data": {"name": "c3"},
    "encoding": {
      "x": {"field": "w", "type": "ordinal", "sort": null,
        "scale": {"type": "band", "paddingInner": 0.62, "paddingOuter": 0.31, "domain": ["8-Mar","15-Mar","22-Mar","29-Mar","5-Apr","12-Apr","19-Apr","26-Apr","3-May","10-May","17-May","24-May","31-May","7-Jun","14-Jun","21-Jun","28-Jun","5-Jul","12-Jul","19-Jul","26-Jul","2-Aug","9-Aug","16-Aug","23-Aug","30-Aug","6-Sep","13-Sep","20-Sep","27-Sep","4-Oct","11-Oct","18-Oct","25-Oct","1-Nov","8-Nov","15-Nov","22-Nov","29-Nov","6-Dec","13-Dec","20-Dec","27-Dec","3-Jan","10-Jan","17-Jan","24-Jan","31-Jan","7-Feb","14-Feb","21-Feb","28-Feb","7-Mar","14-Mar","21-Mar","28-Mar","4-Apr","11-Apr","18-Apr","25-Apr","2-May","9-May","16-May","23-May","30-May","6-Jun","13-Jun","20-Jun","27-Jun","4-Jul","11-Jul","18-Jul","25-Jul","1-Aug","8-Aug","15-Aug","22-Aug","29-Aug","5-Sep","12-Sep","19-Sep","26-Sep","3-Oct","10-Oct","17-Oct","24-Oct","31-Oct","7-Nov","14-Nov","21-Nov","28-Nov","5-Dec","12-Dec","19-Dec","26-Dec","2-Jan","9-Jan","16-Jan","23-Jan"]},
        "axis": {"title": null, "values": ["8-Mar","29-Mar","19-Apr","10-May","31-May","21-Jun","12-Jul","2-Aug","23-Aug","13-Sep","4-Oct","25-Oct","15-Nov","6-Dec","27-Dec","17-Jan","7-Feb","28-Feb","21-Mar","11-Apr","2-May","23-May","13-Jun","4-Jul","25-Jul","15-Aug","5-Sep","26-Sep","17-Oct","7-Nov","28-Nov","19-Dec","9-Jan"], "labelAngle": -45, "labelFontSize": 7.5, "labelPadding": 3, "labelColor": "#595959"}}
    },
    "layer": [
      {"mark": {"type": "bar", "opacity": 1},
       "encoding": {
         "y": {"field": "t", "type": "quantitative", "scale": {"domain": [0, 300], "nice": false},
           "axis": {"orient": "left", "values": [0, 50, 100, 150, 200, 250, 300], "title": "Thousands", "titleAnchor": "end", "titleFontSize": 8, "titleColor": "#8497b0", "titlePadding": 3, "labelFontSize": 8, "labelColor": "#8497b0", "labelPadding": 8, "grid": true}},
         "color": {"datum": "Weekly Individuals PCR Tested", "type": "nominal",
           "scale": {"domain": ["Weekly Individuals PCR Tested", "Weekly PCR Test + Percentage"], "range": ["#52679b", "#ed7d31"]},
           "legend": {"title": null, "orient": "none", "legendX": 88, "legendY": -16, "direction": "horizontal", "symbolType": "M-1,-0.3L1,-0.3L1,0.3L-1,0.3Z", "symbolSize": 200, "labelFontSize": 8, "labelOffset": 3, "columnPadding": 49,
             "encode": {"symbols": {"update": {"fill": {"scale": "color", "field": "value"}, "stroke": {"value": "transparent"}}}}}}
       }},
      {"encoding": {"y": {"field": "p", "type": "quantitative", "scale": {"domain": [0, 0.72], "nice": false},
          "axis": {"orient": "right", "values": [0, 0.12, 0.24, 0.36, 0.48, 0.6, 0.72], "format": ".0%", "title": null, "labelFontSize": 8, "labelColor": "#f4b183", "labelPadding": 4, "grid": false}}},
       "layer": [
         {"mark": {"type": "line", "strokeWidth": 2.2, "interpolate": "monotone"},
          "encoding": {"color": {"datum": "Weekly PCR Test + Percentage", "type": "nominal"}}},
         {"transform": [{"filter": "datum.pos === 'above'"}],
          "mark": {"type": "text", "font": "Lato", "fontSize": 8, "color": "#404040", "dx": 3, "dy": -14, "baseline": "middle"},
          "encoding": {"text": {"field": "p", "type": "quantitative", "format": ".0%"}}},
         {"transform": [{"filter": "datum.pos === 'below'"}],
          "mark": {"type": "text", "font": "Lato", "fontSize": 8, "color": "#404040", "dy": 14, "baseline": "middle"},
          "encoding": {"text": {"field": "p", "type": "quantitative", "format": ".0%"}}},
         {"transform": [{"filter": "datum.pos === 'aboveleft'"}],
          "mark": {"type": "text", "font": "Lato", "fontSize": 8, "color": "#404040", "dx": -15, "dy": -12, "baseline": "middle"},
          "encoding": {"text": {"field": "p", "type": "quantitative", "format": ".0%"}}},
         {"transform": [{"filter": "datum.pos === 'left'"}],
          "mark": {"type": "text", "font": "Lato", "fontSize": 8, "color": "#404040", "dx": -14, "dy": 9, "baseline": "middle"},
          "encoding": {"text": {"field": "p", "type": "quantitative", "format": ".0%"}}},
         {"transform": [{"filter": "datum.pos === 'right'"}],
          "mark": {"type": "text", "font": "Lato", "fontSize": 8, "color": "#404040", "dx": 10, "dy": 8, "baseline": "middle"},
          "encoding": {"text": {"field": "p", "type": "quantitative", "format": ".0%"}}}
       ]}
    ],
    "resolve": {"scale": {"y": "independent"}}
   },
   {
    "width": 508, "height": 363,
    "resolve": {"scale": {"y": "independent"}},
    "layer": [
      {"data": {"values": [{"line": 1, "text": "Figure 3. Weekly Number of Patients Undergoing Traditional Nasopharyngeal PCR Testing"}, {"line": 2, "text": "and Associated Percent Positivity March 1, 2020 – January 23, 2022."}]},
       "mark": {"type": "text", "align": "left", "baseline": "alphabetic", "font": "Lato", "fontWeight": "bold", "fontSize": 12.9, "color": "#1a1a1a"},
       "encoding": {"x": {"datum": 609, "type": "quantitative", "scale": {"domain": [652, 1160], "nice": false, "zero": false}, "axis": null},
         "y": {"field": "line", "type": "quantitative", "scale": {"domain": [-2.3158, 16.7895], "reverse": true, "nice": false, "zero": false}, "axis": null},
         "text": {"field": "text", "type": "nominal"}}},
      {"data": {"name": "pR1"},
       "mark": {"type": "text", "align": "left", "baseline": "alphabetic", "font": "Liberation Serif", "fontSize": 21.5, "color": "#1a1a1a"},
       "encoding": {"x": {"datum": 612, "type": "quantitative", "scale": {"domain": [652, 1160], "nice": false, "zero": false}, "axis": null},
         "y": {"field": "line", "type": "quantitative", "scale": {"domain": [-4.75, 10.375], "reverse": true, "nice": false, "zero": false}, "axis": null},
         "text": {"field": "text", "type": "nominal"}}}
    ]
   },
   {
    "width": 508, "height": 241,
    "data": {"name": "c4"},
    "encoding": {
      "x": {"field": "d", "type": "temporal",
        "scale": {"domain": [{"year": 2020, "month": 4, "date": 9}, {"year": 2022, "month": 1, "date": 27}], "nice": false},
        "axis": {"title": null, "values": [{"year":2020,"month":4,"date":9},{"year":2020,"month":5,"date":9},{"year":2020,"month":6,"date":9},{"year":2020,"month":7,"date":9},{"year":2020,"month":8,"date":9},{"year":2020,"month":9,"date":9},{"year":2020,"month":10,"date":9},{"year":2020,"month":11,"date":9},{"year":2020,"month":12,"date":9},{"year":2021,"month":1,"date":9},{"year":2021,"month":2,"date":9},{"year":2021,"month":3,"date":9},{"year":2021,"month":4,"date":9},{"year":2021,"month":5,"date":9},{"year":2021,"month":6,"date":9},{"year":2021,"month":7,"date":9},{"year":2021,"month":8,"date":9},{"year":2021,"month":9,"date":9},{"year":2021,"month":10,"date":9},{"year":2021,"month":11,"date":9},{"year":2021,"month":12,"date":9},{"year":2022,"month":1,"date":9}],
          "format": "%-d-%b", "labelAngle": -45, "labelFontSize": 9, "labelPadding": 3, "labelColor": "#404040", "domain": true, "domainColor": "#bfbfbf", "ticks": true, "tickColor": "#bfbfbf", "tickSize": 5, "grid": false}}
    },
    "layer": [
      {"mark": {"type": "area", "opacity": 1},
       "encoding": {
         "y": {"field": "tot", "type": "quantitative", "stack": null, "scale": {"domain": [0, 7000], "nice": false},
           "axis": {"title": "Number of Beds Occupied", "titleFontWeight": "bold", "titleFontSize": 10, "titleColor": "#262626", "titlePadding": 6, "format": "d", "values": [0, 1000, 2000, 3000, 4000, 5000, 6000, 7000], "labelFontSize": 10, "labelColor": "#262626", "labelPadding": 6, "grid": true}},
         "color": {"datum": "COVID-19 General Ward Bed Usage", "type": "nominal",
           "scale": {"domain": ["COVID-19 ICU Bed Usage", "COVID-19 General Ward Bed Usage"], "range": ["#ed7d31", "#4472c4"]},
           "legend": {"title": null, "orient": "none", "legendX": 88, "legendY": -24, "direction": "horizontal", "symbolType": "square", "symbolSize": 32, "labelFontSize": 9, "labelOffset": 3, "columnPadding": 59}}
       }},
      {"mark": {"type": "area", "opacity": 1},
       "encoding": {
         "y": {"field": "icu", "type": "quantitative", "stack": null, "scale": {"domain": [0, 7000], "nice": false},
           "axis": {"title": "Number of Beds Occupied", "titleFontWeight": "bold", "titleFontSize": 10, "titleColor": "#262626", "titlePadding": 6, "format": "d", "values": [0, 1000, 2000, 3000, 4000, 5000, 6000, 7000], "labelFontSize": 10, "labelColor": "#262626", "labelPadding": 6, "grid": true}},
         "color": {"datum": "COVID-19 ICU Bed Usage", "type": "nominal"}
       }}
    ]
   },
   {
    "width": 508, "height": 502,
    "resolve": {"scale": {"y": "independent"}},
    "layer": [
      {"data": {"values": [{"line": 1, "text": "Figure 4. Arizona Daily COVID-19 General Ward and ICU Census April 9, 2020 – January 27, 2022."}]},
       "mark": {"type": "text", "align": "left", "baseline": "alphabetic", "font": "Lato", "fontWeight": "bold", "fontSize": 11.7, "color": "#1a1a1a"},
       "encoding": {"x": {"datum": 618, "type": "quantitative", "scale": {"domain": [652, 1160], "nice": false, "zero": false}, "axis": null},
         "y": {"field": "line", "type": "quantitative", "scale": {"domain": [-2.5263, 23.8947], "reverse": true, "nice": false, "zero": false}, "axis": null},
         "text": {"field": "text", "type": "nominal"}}},
      {"data": {"name": "pR2"}, "transform": [{"filter": "datum.ind === 0"}],
       "mark": {"type": "text", "align": "left", "baseline": "alphabetic", "font": "Liberation Serif", "fontSize": 21.5, "color": "#1a1a1a"},
       "encoding": {"x": {"datum": 612, "type": "quantitative", "scale": {"domain": [652, 1160], "nice": false, "zero": false}, "axis": null},
         "y": {"field": "line", "type": "quantitative", "scale": {"domain": [-4.4583, 16.4583], "reverse": true, "nice": false, "zero": false}, "axis": null},
         "text": {"field": "text", "type": "nominal"}}},
      {"data": {"name": "pR2"}, "transform": [{"filter": "datum.ind === 1"}],
       "mark": {"type": "text", "align": "left", "baseline": "alphabetic", "font": "Liberation Serif", "fontSize": 21.5, "color": "#1a1a1a"},
       "encoding": {"x": {"datum": 640, "type": "quantitative", "scale": {"domain": [652, 1160], "nice": false, "zero": false}, "axis": null},
         "y": {"field": "line", "type": "quantitative", "scale": {"domain": [-4.4583, 16.4583], "reverse": true, "nice": false, "zero": false}, "axis": null},
         "text": {"field": "text", "type": "nominal"}}},
      {"data": {"values": [{"line": 3, "text": "Delta"}]},
       "mark": {"type": "text", "align": "left", "baseline": "alphabetic", "font": "Liberation Serif", "fontStyle": "italic", "fontSize": 21.5, "color": "#1a1a1a"},
       "encoding": {"x": {"datum": 841.9, "type": "quantitative", "scale": {"domain": [652, 1160], "nice": false, "zero": false}, "axis": null},
         "y": {"field": "line", "type": "quantitative", "scale": {"domain": [-4.4583, 16.4583], "reverse": true, "nice": false, "zero": false}, "axis": null},
         "text": {"field": "text", "type": "nominal"}}},
      {"data": {"values": [{"line": 3, "text": "and"}]},
       "mark": {"type": "text", "align": "left", "baseline": "alphabetic", "font": "Liberation Serif", "fontSize": 21.5, "color": "#1a1a1a"},
       "encoding": {"x": {"datum": 895.1, "type": "quantitative", "scale": {"domain": [652, 1160], "nice": false, "zero": false}, "axis": null},
         "y": {"field": "line", "type": "quantitative", "scale": {"domain": [-4.4583, 16.4583], "reverse": true, "nice": false, "zero": false}, "axis": null},
         "text": {"field": "text", "type": "nominal"}}},
      {"data": {"values": [{"line": 3, "text": "Omicron"}]},
       "mark": {"type": "text", "align": "left", "baseline": "alphabetic", "font": "Liberation Serif", "fontStyle": "italic", "fontSize": 21.5, "color": "#1a1a1a"},
       "encoding": {"x": {"datum": 931.5, "type": "quantitative", "scale": {"domain": [652, 1160], "nice": false, "zero": false}, "axis": null},
         "y": {"field": "line", "type": "quantitative", "scale": {"domain": [-4.4583, 16.4583], "reverse": true, "nice": false, "zero": false}, "axis": null},
         "text": {"field": "text", "type": "nominal"}}},
      {"data": {"values": [{"line": 3, "text": "waves"}]},
       "mark": {"type": "text", "align": "left", "baseline": "alphabetic", "font": "Liberation Serif", "fontSize": 21.5, "color": "#1a1a1a"},
       "encoding": {"x": {"datum": 1013.3, "type": "quantitative", "scale": {"domain": [652, 1160], "nice": false, "zero": false}, "axis": null},
         "y": {"field": "line", "type": "quantitative", "scale": {"domain": [-4.4583, 16.4583], "reverse": true, "nice": false, "zero": false}, "axis": null},
         "text": {"field": "text", "type": "nominal"}}},
      {"data": {"values": [{"text": "c o n t i n u e d \u00a0 \u00a0o n \u00a0 \u00a0p a g e \u00a0 \u00a02 0"}]},
       "mark": {"type": "text", "align": "right", "baseline": "alphabetic", "font": "Lato", "fontSize": 21, "color": "#9e3a45"},
       "encoding": {"x": {"datum": 1131, "type": "quantitative", "scale": {"domain": [652, 1160], "nice": false, "zero": false}, "axis": null},
         "y": {"datum": 1432, "type": "quantitative", "scale": {"domain": [968, 1470], "reverse": true, "nice": false, "zero": false}, "axis": null},
         "text": {"field": "text", "type": "nominal"}}}
    ]
   },
   {
    "width": 508, "height": 70,
    "data": {"values": [{}]},
    "encoding": {
      "x": {"datum": 600, "type": "quantitative", "scale": {"domain": [652, 1160], "nice": false, "zero": false}, "axis": null},
      "y": {"datum": 1485, "type": "quantitative", "scale": {"domain": [1470, 1540], "reverse": true, "nice": false, "zero": false}, "axis": null}
    },
    "layer": [
      {"mark": {"type": "rect", "fill": {"gradient": "linear", "stops": [{"offset": 0, "color": "#dba6ab"}, {"offset": 0.29, "color": "#cf8a91"}, {"offset": 0.7, "color": "#c0636b"}, {"offset": 0.97, "color": "#b23540"}, {"offset": 1, "color": "#b0303b"}]}},
       "encoding": {"x2": {"datum": 1163}, "y2": {"datum": 1504}}},
      {"mark": {"type": "rect", "fill": "#111111"},
       "encoding": {"y": {"datum": 1476.3, "type": "quantitative"}, "x2": {"datum": 1163}, "y2": {"datum": 1477.8}}},
      {"data": {"values": [{"text": "Family Physician Focus"}]},
       "mark": {"type": "text", "align": "left", "baseline": "alphabetic", "font": "Roboto", "fontSize": 14, "color": "#fbf0f0"},
       "encoding": {"x": {"datum": 949, "type": "quantitative"}, "y": {"datum": 1499.5, "type": "quantitative"}, "text": {"field": "text", "type": "nominal"}}},
      {"data": {"values": [{"text": "19"}]},
       "mark": {"type": "text", "align": "left", "baseline": "alphabetic", "font": "Roboto", "fontSize": 14, "color": "#fbf0f0"},
       "encoding": {"x": {"datum": 1148, "type": "quantitative"}, "y": {"datum": 1499.5, "type": "quantitative"}, "text": {"field": "text", "type": "nominal"}}}
    ]
   }
  ]
 }
]
}
